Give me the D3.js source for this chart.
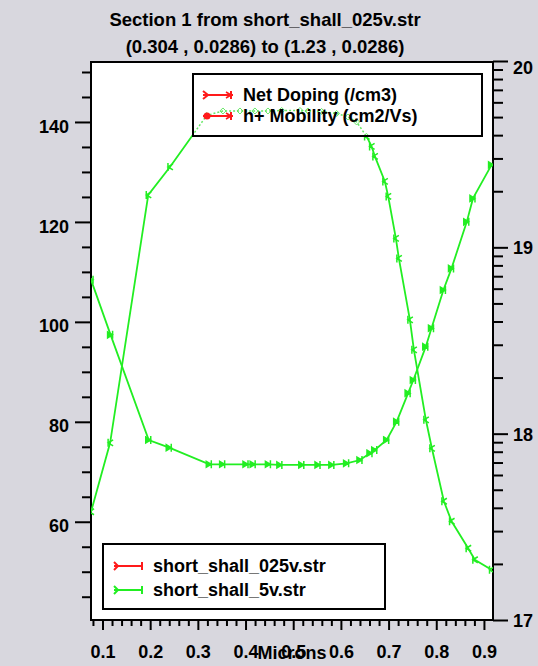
<!DOCTYPE html>
<html><head><meta charset="utf-8">
<script src="https://cdn.jsdelivr.net/npm/d3@7"></script>
<style>
html,body{margin:0;padding:0;background:#d8d7de;}
svg{display:block;}
text{font-family:"Liberation Sans",Arial,sans-serif;font-weight:bold;fill:#000;}
</style></head><body>
<svg id="c" width="538" height="666"></svg>
<script>
// ---------- data ----------
const titleLines = ["Section 1 from short_shall_025v.str", "(0.304 , 0.0286) to (1.23 , 0.0286)"];
const xLabel = "Microns";
const xTicks = [0.1,0.2,0.3,0.4,0.5,0.6,0.7,0.8,0.9];
const xTickLabels = ["0.1","0.2","0.3","0.4","0.5","0.6","0.7","0.8","0.9"];
const leftTicks = [60,80,100,120,140];
const leftTickLabels = ["60","80","100","120","140"];
const rightTicks = [1e17,1e18,1e19,1e20];
const rightTickLabels = ["17","18","19","20"];
const quantityNames = ["Net Doping (/cm3)", "h+ Mobility (cm2/Vs)"];
const fileNames = ["short_shall_025v.str", "short_shall_5v.str"];

// h+ Mobility (cm2/Vs), short_shall_5v.str — left axis
const mobX = [0.076,0.116,0.196,0.2415,0.3185,0.3526,0.3883,0.4197,0.447,0.4757,0.5141,0.5308,0.5595,0.591,0.6147,0.6329,0.6539,0.6644,0.6713,0.6922,0.6992,0.7153,0.7216,0.7447,0.7531,0.7782,0.7908,0.816,0.8321,0.8669,0.8809,0.9159];
const mobY = [62.0,75.8,125.4,131.0,141.3,142.2,142.2,142.2,142.2,142.3,142.3,142.2,142.1,141.7,141.0,140.0,137.1,135.1,133.1,128.1,125.1,116.7,112.7,100.4,94.4,80.4,74.7,64.1,60.1,54.7,52.4,50.4];

// Net Doping (/cm3), short_shall_5v.str — right log axis
const dopX = [0.076,0.117,0.197,0.240,0.324,0.352,0.401,0.416,0.448,0.472,0.518,0.552,0.581,0.612,0.640,0.661,0.671,0.696,0.717,0.741,0.752,0.778,0.790,0.815,0.832,0.864,0.877,0.916];
const dopY = [6.69e18,3.39e18,9.25e17,8.41e17,6.85e17,6.85e17,6.85e17,6.85e17,6.85e17,6.8e17,6.8e17,6.8e17,6.8e17,6.93e17,7.22e17,7.85e17,8.17e17,9.25e17,1.16e18,1.65e18,1.94e18,2.93e18,3.68e18,5.90e18,7.71e18,1.37e19,1.83e19,2.77e19];

// ---------- layout ----------
const L = 91, R = 493, T = 62, B = 620;
const svg = d3.select("#c");
const green = "#22ee22", red = "#ff1a1a";

const x = d3.scaleLinear().domain([0.0759, 0.919]).range([L, R]);
const yL = d3.scaleLinear().domain([40.34, 152]).range([B, T]);
const yR = d3.scaleLog().domain([1e17, 1e20]).range([B, T - 1]);

// title
svg.selectAll("text.title").data(titleLines).enter().append("text")
  .attr("x", 265).attr("y", (d,i) => 26 + i*27).attr("text-anchor","middle")
  .style("font-size","18.5px").text(d => d);

// plot area
svg.append("rect").attr("x", L).attr("y", T).attr("width", R-L).attr("height", B-T)
  .attr("fill","#fff").attr("stroke","#000").attr("stroke-width",2);

// x axis
const xMinor = d3.range(0.08, 0.92, 0.02).filter(v => Math.abs(v*10 - Math.round(v*10)) > 1e-6);
const xAxisMajor = d3.axisBottom(x).tickValues(xTicks).tickSize(10).tickFormat((d,i) => xTickLabels[i]);
const xAxisMinor = d3.axisBottom(x).tickValues(xMinor).tickSize(6).tickFormat("");
const gx = svg.append("g").attr("transform", `translate(0,${B})`);
gx.call(xAxisMinor);
const gx2 = svg.append("g").attr("transform", `translate(0,${B})`).call(xAxisMajor);
[gx, gx2].forEach(g => { g.select(".domain").remove(); g.selectAll("line").attr("stroke","#000").attr("stroke-width",2); });
gx2.selectAll("text").style("font-size","18px").attr("y", 25).attr("dy", 0).attr("fill","#000");
gx2.selectAll("text").attr("dy","0.71em").attr("y", 25);

// left axis
const lMinor = d3.range(45, 151, 5).filter(v => v % 20 !== 0);
const gl = svg.append("g").attr("transform", `translate(${L},0)`).call(d3.axisLeft(yL).tickValues(lMinor).tickSize(9).tickFormat(""));
const gl2 = svg.append("g").attr("transform", `translate(${L},0)`).call(d3.axisLeft(yL).tickValues(leftTicks).tickSize(16).tickFormat((d,i) => leftTickLabels[i]));
[gl, gl2].forEach(g => { g.select(".domain").remove(); g.selectAll("line").attr("stroke","#000").attr("stroke-width",2); });
gl2.selectAll("text").style("font-size","18px").attr("x", -22).attr("dy","0.56em").attr("fill","#000");

// right axis (log)
const rMinor = [];
[1e17,1e18,1e19].forEach(b => { for (let k = 2; k <= 9; k++) rMinor.push(b*k); });
const gr = svg.append("g").attr("transform", `translate(${R},0)`).call(d3.axisRight(yR).tickValues(rMinor).tickSize(10).tickFormat(""));
const gr2 = svg.append("g").attr("transform", `translate(${R},0)`).call(d3.axisRight(yR).tickValues(rightTicks).tickSize(15).tickFormat((d,i) => rightTickLabels[i]));
[gr, gr2].forEach(g => { g.select(".domain").remove(); g.selectAll("line").attr("stroke","#000").attr("stroke-width",2); });
gr2.selectAll("text").style("font-size","18px").attr("x", 20).attr("dy","0.36em").attr("fill","#000");
gr2.selectAll(".tick").filter(d => d === 1e20).select("text").attr("dy","0.72em");

// x label
svg.append("text").attr("x", 292).attr("y", 659).attr("text-anchor","middle").style("font-size","18px").text(xLabel);

// frame again on top
svg.append("rect").attr("x", L).attr("y", T).attr("width", R-L).attr("height", B-T)
  .attr("fill","none").attr("stroke","#000").attr("stroke-width",2);

// curves
const mobPts = mobX.map((v,i) => [x(v), yL(mobY[i])]);
const dopPts = dopX.map((v,i) => [x(v), yR(dopY[i])]);
const line = d3.line();
svg.append("defs").append("clipPath").attr("id","plotclip").append("rect")
  .attr("x", L).attr("y", T).attr("width", R-L).attr("height", B-T);
const pg = svg.append("g").attr("clip-path","url(#plotclip)");
pg.append("path").attr("d", line(mobPts)).attr("fill","none").attr("stroke",green).attr("stroke-width",1.8);
pg.append("path").attr("d", line(dopPts)).attr("fill","none").attr("stroke",green).attr("stroke-width",1.8);

const dopMarker = "M-3,-3L2,0L-3,3Z M2,-4L2,4";
const mobMarker = "M3,-3L-2,0L3,3 M-2,-4L-2,4";
pg.selectAll("path.dm").data(dopPts).enter().append("path")
  .attr("transform", d => `translate(${d[0]},${d[1]})`).attr("d", dopMarker)
  .attr("fill",green).attr("stroke",green).attr("stroke-width",1.5);
pg.selectAll("path.mm").data(mobPts).enter().append("path")
  .attr("transform", d => `translate(${d[0]},${d[1]})`).attr("d", mobMarker)
  .attr("fill","none").attr("stroke",green).attr("stroke-width",1.5);

// legend 1 (quantities)
const lg1 = {x:193, y:74, w:289, h:62};
svg.append("rect").attr("x", lg1.x).attr("y", lg1.y).attr("width", lg1.w).attr("height", lg1.h)
  .attr("fill","#fff").attr("stroke","#000").attr("stroke-width",2);
// curve seen through the legend as a dotted trace
svg.append("defs").append("clipPath").attr("id","lgclip").append("rect")
  .attr("x", lg1.x+1).attr("y", lg1.y+1).attr("width", lg1.w-2).attr("height", lg1.h-2);
const lgc = svg.append("g").attr("clip-path","url(#lgclip)");
lgc.append("path").attr("d", line(mobPts)).attr("fill","none").attr("stroke","#66e866")
  .attr("stroke-width",1.5).attr("stroke-dasharray","2,2");
lgc.selectAll("path.dd").data(mobPts).enter().append("path")
  .attr("transform", d => `translate(${d[0]},${d[1]})`).attr("d","M0,-3L3,0L0,3L-3,0Z")
  .attr("fill","none").attr("stroke","#66e866").attr("stroke-width",1);

const l1 = svg.append("g");
quantityNames.forEach((name, i) => {
  const cy = 95 + i*21;
  l1.append("line").attr("x1",203).attr("x2",233).attr("y1",cy).attr("y2",cy).attr("stroke",red).attr("stroke-width",2);
  l1.append("line").attr("x1",231).attr("x2",231).attr("y1",cy-4).attr("y2",cy+4).attr("stroke",red).attr("stroke-width",2);
  if (i === 0) {
    l1.append("path").attr("d",`M203,${cy-4}L208,${cy}L203,${cy+4}`).attr("fill","none").attr("stroke",red).attr("stroke-width",2);
    l1.append("path").attr("d",`M231,${cy}L226,${cy-3}M231,${cy}L226,${cy+3}`).attr("stroke",red).attr("stroke-width",1.5);
  } else {
    l1.append("circle").attr("cx",207).attr("cy",cy).attr("r",3.5).attr("fill",red);
    l1.append("path").attr("d",`M231,${cy}L226,${cy-3}M231,${cy}L226,${cy+3}`).attr("stroke",red).attr("stroke-width",1.5);
  }
  l1.append("text").attr("x",243).attr("y",cy).attr("dy","0.36em").style("font-size","18px").text(name);
});

// legend 2 (files)
const lg2 = {x:103, y:544, w:282, h:65};
svg.append("rect").attr("x", lg2.x).attr("y", lg2.y).attr("width", lg2.w).attr("height", lg2.h)
  .attr("fill","#fff").attr("stroke","#000").attr("stroke-width",2);
const fileColors = [red, green];
fileNames.forEach((name, i) => {
  const cy = 566 + i*24;
  const c = fileColors[i];
  svg.append("line").attr("x1",114).attr("x2",143).attr("y1",cy).attr("y2",cy).attr("stroke",c).attr("stroke-width",2);
  svg.append("path").attr("d",`M114,${cy-4}L118,${cy}L114,${cy+4}`).attr("fill","none").attr("stroke",c).attr("stroke-width",2);
  svg.append("line").attr("x1",142).attr("x2",142).attr("y1",cy-4).attr("y2",cy+4).attr("stroke",c).attr("stroke-width",2);
  svg.append("text").attr("x",153).attr("y",cy).attr("dy","0.36em").style("font-size","18px").text(name);
});
</script>
</body></html>
